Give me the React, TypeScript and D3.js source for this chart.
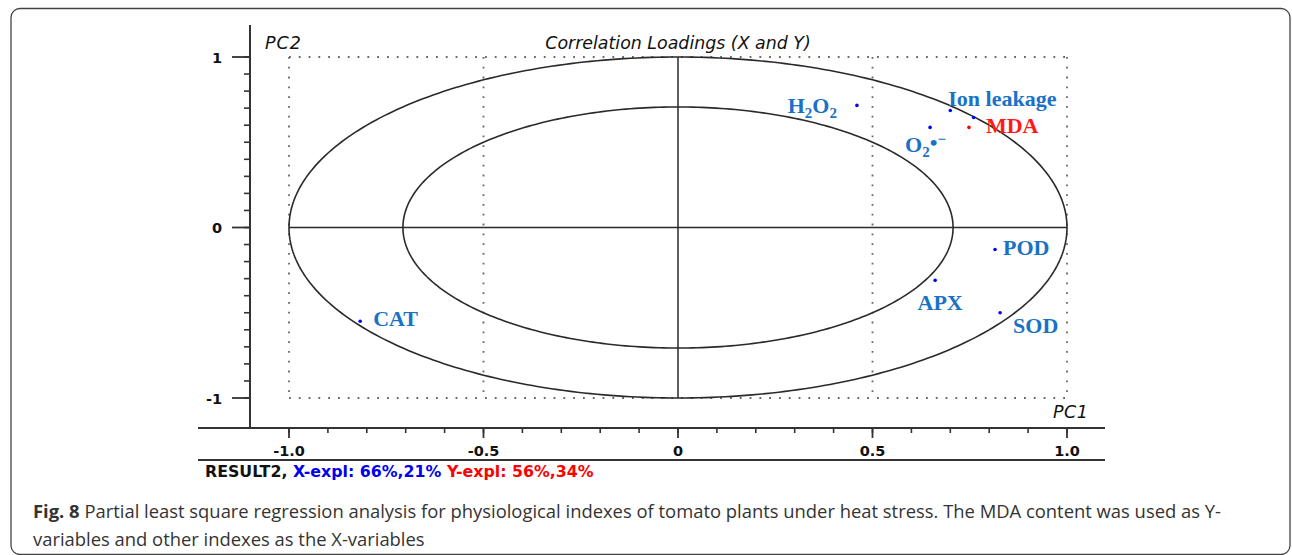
import React from "react";
import * as d3 from "d3";

// ---- data ----
const variables = ["H2O2", "Ion leakage", "O2•−", "MDA", "POD", "APX", "SOD", "CAT", ""];
const pc1 = [0.46, 0.70, 0.648, 0.748, 0.815, 0.661, 0.828, -0.817, 0.76];
const pc2 = [0.716, 0.686, 0.587, 0.587, -0.129, -0.31, -0.50, -0.55, 0.645];
const isY = [false, false, false, true, false, false, false, false, false];
const xMajorTicks = [-1.0, -0.5, 0, 0.5, 1.0];
const xMajorLabels = ["-1.0", "-0.5", "0", "0.5", "1.0"];
const yMajorTicks = [1, 0, -1];
const yMajorLabels = ["1", "0", "-1"];
const gridX = [-1, -0.5, 0.5, 1];
const gridY = [1, -1];
const ellipseRadii = [1, Math.SQRT1_2];
const title = "Correlation Loadings (X and Y)";
const resultName = "RESULT2,";
const xExpl = "X-expl: 66%,21%";
const yExpl = "Y-expl: 56%,34%";
const captionBold = "Fig. 8";
const captionLine1 = " Partial least square regression analysis for physiological indexes of tomato plants under heat stress. The MDA content was used as Y-";
const captionLine2 = "variables and other indexes as the X-variables";

// label layout (pixel offsets from point, anchor)
const labelLayout: { dx: number; dy: number; anchor: string }[] = [
  { dx: -20, dy: 8, anchor: "end" },
  { dx: -2, dy: -5, anchor: "start" },
  { dx: -25, dy: 25, anchor: "start" },
  { dx: 17, dy: 6, anchor: "start" },
  { dx: 8, dy: 6, anchor: "start" },
  { dx: 5, dy: 30, anchor: "middle" },
  { dx: 13, dy: 20, anchor: "start" },
  { dx: 13, dy: 5, anchor: "start" },
  { dx: 0, dy: 0, anchor: "start" },
];

const W = 1292;
const H = 555;

export default function App() {
  const x = d3.scaleLinear().domain([-1, 1]).range([289, 1067]);
  const y = d3.scaleLinear().domain([-1, 1]).range([398, 57]);
  const xMinor = d3.range(-10, 11).map((i) => i / 10);
  const yMinor = d3.range(-10, 11).map((i) => i / 10);

  const axisCol = "#333";
  const labelBlue = "#1a72c6";
  const sans = "'DejaVu Sans', Verdana, sans-serif";
  const serif = "'Liberation Serif', 'Times New Roman', serif";

  const ellipsePath = (r: number) => {
    const pts = d3.range(0, 361).map((a) => {
      const t = (a * Math.PI) / 180;
      return [x(r * Math.cos(t)), y(r * Math.sin(t))] as [number, number];
    });
    return d3.line()(pts) || "";
  };

  const renderLabel = (name: string, i: number) => {
    const L = labelLayout[i];
    const px = x(pc1[i]) + L.dx;
    const py = y(pc2[i]) + L.dy;
    const fill = isY[i] ? "#ff1a1a" : labelBlue;
    const common = {
      x: px,
      y: py,
      textAnchor: L.anchor as any,
      fontFamily: serif,
      fontWeight: "bold" as const,
      fontSize: 22,
      fill,
    };
    if (name === "H2O2") {
      return (
        <text key={i} {...common}>
          H<tspan fontSize={15} dy={5}>2</tspan>
          <tspan dy={-5}>O</tspan>
          <tspan fontSize={15} dy={5}>2</tspan>
        </text>
      );
    }
    if (name === "O2•−") {
      return (
        <text key={i} {...common}>
          O<tspan fontSize={15} dy={5}>2</tspan>
          <tspan dy={-7}>•</tspan>
          <tspan fontSize={15} dy={-6}>−</tspan>
        </text>
      );
    }
    return (
      <text key={i} {...common}>
        {name}
      </text>
    );
  };

  return (
    <svg
      width={W}
      height={H}
      style={{ position: "absolute", left: 0, top: 0, background: "#fff" }}
    >
      <rect x={0} y={0} width={W} height={H} fill="#fff" />
      <rect x={11} y={8.5} width={1279} height={546} rx={9} fill="none" stroke="#444" strokeWidth={1.3} />

      {/* dotted grid */}
      {gridX.map((v) => (
        <line key={"gx" + v} x1={x(v)} x2={x(v)} y1={y(1)} y2={y(-1)} stroke="#666" strokeWidth={1.8} strokeDasharray="1.8 8" />
      ))}
      {gridY.map((v) => (
        <line key={"gy" + v} x1={x(-1)} x2={x(1)} y1={y(v)} y2={y(v)} stroke="#666" strokeWidth={1.8} strokeDasharray="1.8 8" />
      ))}

      {/* ellipses */}
      {ellipseRadii.map((r) => (
        <path key={"e" + r} d={ellipsePath(r)} fill="none" stroke="#2a2a2a" strokeWidth={1.6} />
      ))}

      {/* crosshair */}
      <line x1={x(0)} x2={x(0)} y1={y(1)} y2={y(-1)} stroke="#2a2a2a" strokeWidth={1.5} />
      <line x1={x(-1)} x2={x(1)} y1={y(0)} y2={y(0)} stroke="#2a2a2a" strokeWidth={1.5} />

      {/* y axis */}
      <line x1={250} x2={250} y1={25} y2={428} stroke={axisCol} strokeWidth={2} />
      {yMinor.map((v) => (
        <line key={"ym" + v} x1={244} x2={250} y1={y(v)} y2={y(v)} stroke={axisCol} strokeWidth={1.6} />
      ))}
      {yMajorTicks.map((v, i) => (
        <g key={"yM" + v}>
          <line x1={232} x2={250} y1={y(v)} y2={y(v)} stroke={axisCol} strokeWidth={1.8} />
          <text x={222} y={y(v) + 5.5} textAnchor="end" fontFamily={sans} fontWeight="bold" fontSize={14.5} fill="#111">
            {yMajorLabels[i]}
          </text>
        </g>
      ))}

      {/* x axis */}
      <line x1={198} x2={1105} y1={428} y2={428} stroke={axisCol} strokeWidth={2} />
      {xMinor.map((v) => (
        <line key={"xm" + v} x1={x(v)} x2={x(v)} y1={428} y2={433} stroke={axisCol} strokeWidth={1.6} />
      ))}
      {xMajorTicks.map((v, i) => (
        <g key={"xM" + v}>
          <line x1={x(v)} x2={x(v)} y1={428} y2={438} stroke={axisCol} strokeWidth={1.8} />
          <text x={x(v)} y={456} textAnchor="middle" fontFamily={sans} fontWeight="bold" fontSize={14.5} fill="#111">
            {xMajorLabels[i]}
          </text>
        </g>
      ))}
      <line x1={198} x2={1105} y1={460} y2={460} stroke={axisCol} strokeWidth={2} />

      {/* titles */}
      <text x={265} y={49} fontFamily={sans} fontStyle="italic" fontSize={17.5} letterSpacing={1} fill="#111">PC2</text>
      <text x={678} y={49} textAnchor="middle" fontFamily={sans} fontStyle="italic" fontSize={17.4} fill="#111">{title}</text>
      <text x={1053} y={418} fontFamily={sans} fontStyle="italic" fontSize={17.5} letterSpacing={0.5} fill="#111">PC1</text>

      {/* result line */}
      <text x={205} y={477} fontFamily={sans} fontWeight="bold" fontSize={15.8}>
        <tspan fill="#111">{resultName}</tspan>
        <tspan fill="#0000ee"> {xExpl}</tspan>
        <tspan fill="#ff0000">{"  " + yExpl}</tspan>
      </text>

      {/* points */}
      {pc1.map((v, i) => (
        <circle key={"p" + i} cx={x(v)} cy={y(pc2[i])} r={1.8} fill={isY[i] ? "#ff0000" : "#0000ff"} />
      ))}
      {variables.map((n, i) => (n ? renderLabel(n, i) : null))}

      {/* caption */}
      <text x={33} y={518} fontFamily="'Open Sans', sans-serif" fontSize={18.4} fill="#333">
        <tspan fontWeight="bold">{captionBold}</tspan>
        <tspan>{captionLine1}</tspan>
      </text>
      <text x={33} y={546} fontFamily="'Open Sans', sans-serif" fontSize={18.4} fill="#333">
        {captionLine2}
      </text>
    </svg>
  );
}
